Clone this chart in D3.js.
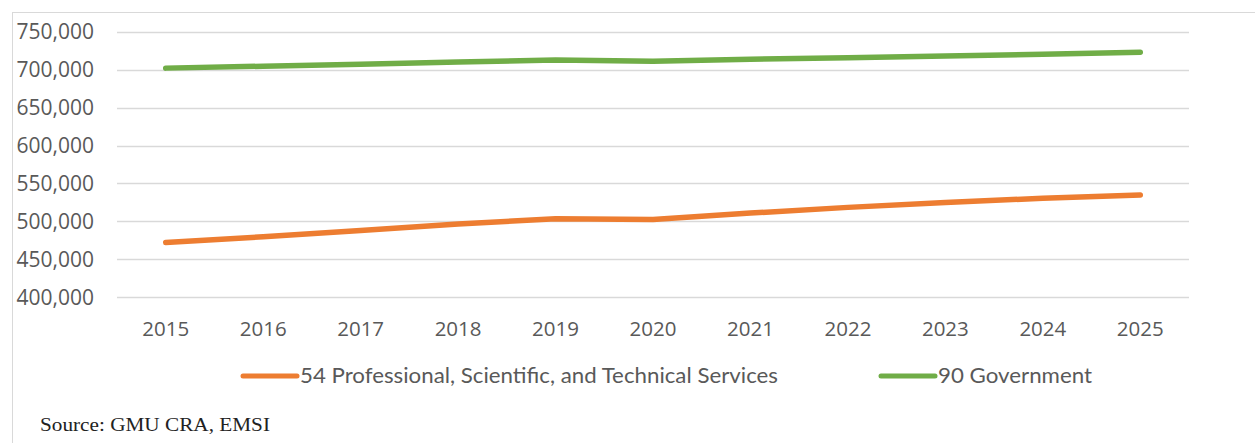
<!DOCTYPE html>
<html>
<head>
<meta charset="utf-8">
<script src="https://cdn.jsdelivr.net/npm/d3@7"></script>
<style>
  html, body { margin: 0; padding: 0; background: #fff; }
  svg { display: block; }
</style>
</head>
<body>
<svg id="chart" width="1255" height="443"></svg>
<script>
// Employment by industry, 2015-2025
const years = ["2015","2016","2017","2018","2019","2020","2021","2022","2023","2024","2025"];
const professionalServices = [472200, 479800, 488000, 496500, 503500, 502500, 511000, 518500, 525000, 530500, 534800];
const government = [702000, 704500, 707000, 710000, 712600, 711200, 713600, 715800, 718000, 720400, 723000];
const yTicks = [400000, 450000, 500000, 550000, 600000, 650000, 700000, 750000];
const seriesNames = ["54 Professional, Scientific, and Technical Services", "90 Government"];
const seriesColors = ["#ED7D31", "#70AD47"];

const svg = d3.select("#chart");
const W = 1255, H = 443;

// Chart area frame
svg.append("rect")
  .attr("x", 12.5).attr("y", 12.5)
  .attr("width", W).attr("height", H)
  .attr("fill", "none").attr("stroke", "#D9D9D9").attr("stroke-width", 1);

const plot = { left: 117, right: 1189, top: 31.7, bottom: 297.3 };

const x = d3.scaleBand().domain(years).range([plot.left, plot.right]).paddingInner(0).paddingOuter(0);
const y = d3.scaleLinear().domain([400000, 750000]).range([plot.bottom, plot.top]);

const fmt = d3.format(",");

// Horizontal gridlines
svg.append("g")
  .selectAll("line")
  .data(yTicks)
  .join("line")
  .attr("x1", plot.left).attr("x2", plot.right)
  .attr("y1", d => Math.round(y(d)) + 0.5).attr("y2", d => Math.round(y(d)) + 0.5)
  .attr("stroke", "#D9D9D9").attr("stroke-width", 1.3);

// Y axis labels
const yAxis = d3.axisLeft(y).tickValues(yTicks).tickFormat(fmt).tickSize(0).tickPadding(0);
const gy = svg.append("g").attr("transform", "translate(94,0)").call(yAxis);
gy.select(".domain").remove();
gy.selectAll("text")
  .attr("fill", "#595959")
  .style("font-family", "'Open Sans', sans-serif")
  .style("font-size", "21px");

// X axis labels
const xAxis = d3.axisBottom(x).tickSize(0).tickPadding(0);
const gx = svg.append("g").attr("transform", "translate(0,321)").call(xAxis);
gx.select(".domain").remove();
gx.selectAll("text")
  .attr("fill", "#595959")
  .style("font-family", "'Open Sans', sans-serif")
  .style("font-size", "20.5px");

// Series lines
const line = d3.line()
  .x((d, i) => x(years[i]) + x.bandwidth() / 2)
  .y(d => y(d));

[professionalServices, government].forEach((vals, k) => {
  svg.append("path")
    .datum(vals)
    .attr("d", line)
    .attr("fill", "none")
    .attr("stroke", seriesColors[k])
    .attr("stroke-width", 5.5)
    .attr("stroke-linecap", "round")
    .attr("stroke-linejoin", "round");
});

// Legend
const legendItems = [
  { x1: 243, x2: 297, tx: 300, tw: 478 },
  { x1: 881, x2: 935, tx: 938, tw: 154 }
];
const lg = svg.append("g");
legendItems.forEach((it, k) => {
  lg.append("line")
    .attr("x1", it.x1).attr("x2", it.x2)
    .attr("y1", 376).attr("y2", 376)
    .attr("stroke", seriesColors[k]).attr("stroke-width", 5)
    .attr("stroke-linecap", "round");
  lg.append("text")
    .attr("x", it.tx).attr("y", 376)
    .attr("dy", "0.35em")
    .attr("fill", "#595959")
    .attr("textLength", it.tw)
    .attr("lengthAdjust", "spacingAndGlyphs")
    .style("font-family", "Lato, sans-serif")
    .style("font-size", "21px")
    .text(seriesNames[k]);
});

// Source note
svg.append("text")
  .attr("x", 40).attr("y", 431)
  .attr("fill", "#222")
  .attr("textLength", 230)
  .attr("lengthAdjust", "spacingAndGlyphs")
  .style("font-family", "'Liberation Serif', 'Times New Roman', serif")
  .style("font-size", "19px")
  .text("Source:  GMU CRA, EMSI");
</script>
</body>
</html>
